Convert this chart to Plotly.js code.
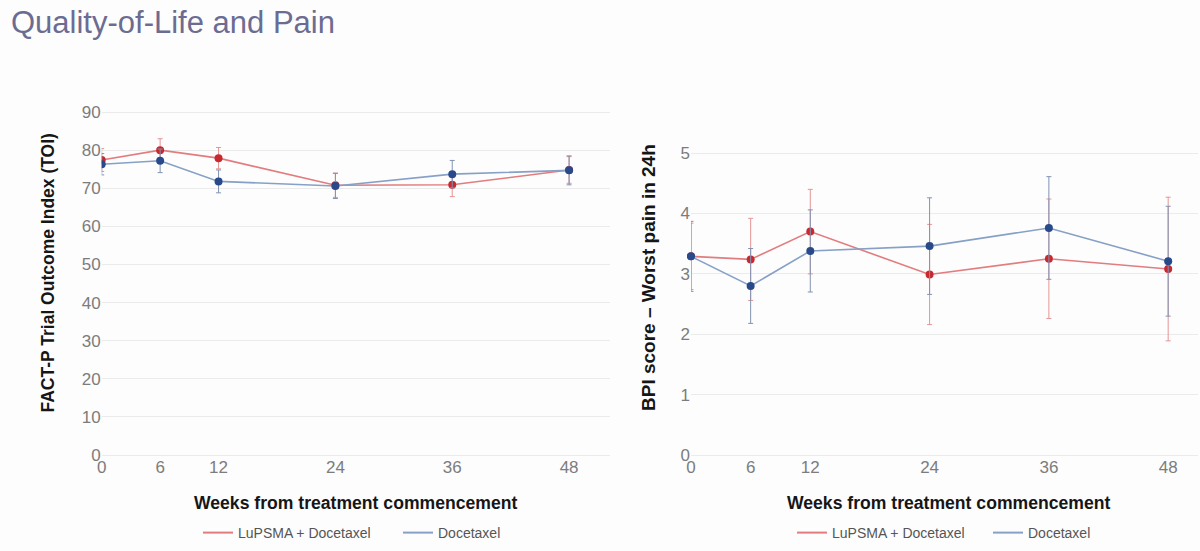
<!DOCTYPE html>
<html>
<head>
<meta charset="utf-8">
<script src="https://cdn.plot.ly/plotly-3.0.1.min.js"></script>
<style>html,body{margin:0;padding:0;background:#fdfdfd;}#chart{width:1200px;height:551px;}</style>
</head>
<body>
<div id="chart"></div>
<script>
// ---- data ----
const weeks = [0, 6, 12, 24, 36, 48];
const weekLabels = ['0', '6', '12', '24', '36', '48'];

const toiLu = [77.4, 80.0, 77.9, 70.8, 70.9, 74.8];
const toiLuErr = [3.0, 3.0, 2.8, 3.2, 3.1, 3.5];
const toiDoc = [76.3, 77.2, 71.8, 70.6, 73.7, 74.7];
const toiDocErr = [2.8, 3.1, 3.0, 3.3, 3.6, 3.8];

const bpiLu = [3.29, 3.24, 3.70, 2.99, 3.25, 3.08];
const bpiLuErr = [0.55, 0.68, 0.70, 0.83, 0.99, 1.19];
const bpiDoc = [3.29, 2.80, 3.38, 3.46, 3.76, 3.21];
const bpiDocErr = [0.58, 0.62, 0.68, 0.80, 0.85, 0.91];

const seriesNames = ['LuPSMA + Docetaxel', 'Docetaxel'];

// ---- styles ----
const RED_LINE = '#e27c7e', RED_MARK = '#c62a30', RED_ERR = '#e49596';
const BLUE_LINE = '#86a0c6', BLUE_MARK = '#284a8a', BLUE_ERR = '#8193b2';

function series(x, y, err, name, lineC, markC, errC, xa, ya, clip) {
  return {
    type: 'scatter', mode: 'lines+markers', x: x, y: y, name: name,
    xaxis: xa, yaxis: ya, showlegend: false, cliponaxis: clip,
    line: {color: lineC, width: 1.6},
    marker: {color: markC, size: 8},
    error_y: {type: 'data', array: err, visible: true, color: errC, thickness: 1, width: 2.5},
    hoverinfo: 'x+y+name'
  };
}
function legendEntry(name, lineC, legendId) {
  return {
    type: 'scatter', mode: 'lines', x: [null], y: [null], name: name,
    line: {color: lineC, width: 2}, showlegend: true, legend: legendId,
    xaxis: legendId === 'legend' ? 'x' : 'x2', yaxis: legendId === 'legend' ? 'y' : 'y2',
    hoverinfo: 'skip'
  };
}

const data = [
  series(weeks, toiLu, toiLuErr, seriesNames[0], RED_LINE, RED_MARK, RED_ERR, 'x', 'y', true),
  series(weeks, toiDoc, toiDocErr, seriesNames[1], BLUE_LINE, BLUE_MARK, BLUE_ERR, 'x', 'y', true),
  series(weeks, bpiLu, bpiLuErr, seriesNames[0], RED_LINE, RED_MARK, RED_ERR, 'x2', 'y2', false),
  series(weeks, bpiDoc, bpiDocErr, seriesNames[1], BLUE_LINE, BLUE_MARK, BLUE_ERR, 'x2', 'y2', false),
  legendEntry(seriesNames[0], RED_LINE, 'legend'),
  legendEntry(seriesNames[1], BLUE_LINE, 'legend'),
  legendEntry(seriesNames[0], RED_LINE, 'legend2'),
  legendEntry(seriesNames[1], BLUE_LINE, 'legend2')
];

const FONT = 'Liberation Sans, Arial, Helvetica, sans-serif';
const tickFont = {family: FONT, size: 17, color: '#7c7c7c'};
const W = 1200, H = 551;
const yDom = [1 - 455 / H, 1 - 100.6 / H];

function xAxis(dom, range, anchor) {
  return {
    domain: dom, range: range, anchor: anchor, tickmode: 'array',
    tickvals: weeks, ticktext: weekLabels, showgrid: false, zeroline: false,
    showline: false, ticks: '', tickfont: tickFont, fixedrange: true
  };
}
function yAxis(range, dtick, anchor) {
  return {
    domain: yDom, range: range, anchor: anchor, tick0: 0, dtick: dtick,
    showgrid: true, gridcolor: '#ebebeb', gridwidth: 1,
    zeroline: true, zerolinecolor: '#ebebeb', zerolinewidth: 1,
    showline: false, ticks: '', tickfont: tickFont, fixedrange: true
  };
}

const yTitleFontL = {family: FONT, size: 17.5, color: '#161616', weight: 'bold'};
const yTitleFontR = {family: FONT, size: 19, color: '#161616', weight: 'bold'};
const xTitleFont = {family: FONT, size: 17.6, color: '#161616', weight: 'bold'};
const legendFont = {family: FONT, size: 14, color: '#555555'};

const layout = {
  width: W, height: H,
  margin: {l: 0, r: 0, t: 0, b: 0},
  paper_bgcolor: '#fdfdfd', plot_bgcolor: '#fdfdfd',
  font: {family: FONT},
  title: {
    text: 'Quality-of-Life and Pain',
    x: 11 / W, xanchor: 'left', y: 1 - 22.5 / H, yanchor: 'middle',
    font: {family: FONT, size: 31, color: '#6c6c92'}
  },
  xaxis: xAxis([101.7 / W, 610 / W], [0, 52.2], 'y'),
  yaxis: yAxis([0, 93], 10, 'x'),
  xaxis2: xAxis([691 / W, 1198 / W], [0, 51], 'y2'),
  yaxis2: yAxis([0, 5.87], 1, 'x2'),
  annotations: [
    {text: 'FACT-P Trial Outcome Index (TOI)', textangle: -90, x: 47 / W, y: 1 - 273.5 / H,
     xref: 'paper', yref: 'paper', showarrow: false, font: yTitleFontL, xanchor: 'center', yanchor: 'middle'},
    {text: 'BPI score \u2013 Worst pain in 24h', textangle: -90, x: 648 / W, y: 1 - 278 / H,
     xref: 'paper', yref: 'paper', showarrow: false, font: yTitleFontR, xanchor: 'center', yanchor: 'middle'},
    {text: 'Weeks from treatment commencement', x: 355 / W, y: 1 - 503 / H,
     xref: 'paper', yref: 'paper', showarrow: false, font: xTitleFont, xanchor: 'center', yanchor: 'middle'},
    {text: 'Weeks from treatment commencement', x: 948 / W, y: 1 - 503 / H,
     xref: 'paper', yref: 'paper', showarrow: false, font: xTitleFont, xanchor: 'center', yanchor: 'middle'}
  ],
  legend: {
    orientation: 'h', x: 198 / W, xanchor: 'left', y: 1 - 533 / H, yanchor: 'middle',
    entrywidth: 155, entrywidthmode: 'pixels',
    font: legendFont, bgcolor: 'rgba(0,0,0,0)'
  },
  legend2: {
    orientation: 'h', x: 792 / W, xanchor: 'left', y: 1 - 533 / H, yanchor: 'middle',
    entrywidth: 151, entrywidthmode: 'pixels',
    font: legendFont, bgcolor: 'rgba(0,0,0,0)'
  },
  hovermode: 'closest'
};

Plotly.newPlot('chart', data, layout, {displayModeBar: false});
</script>
</body>
</html>
